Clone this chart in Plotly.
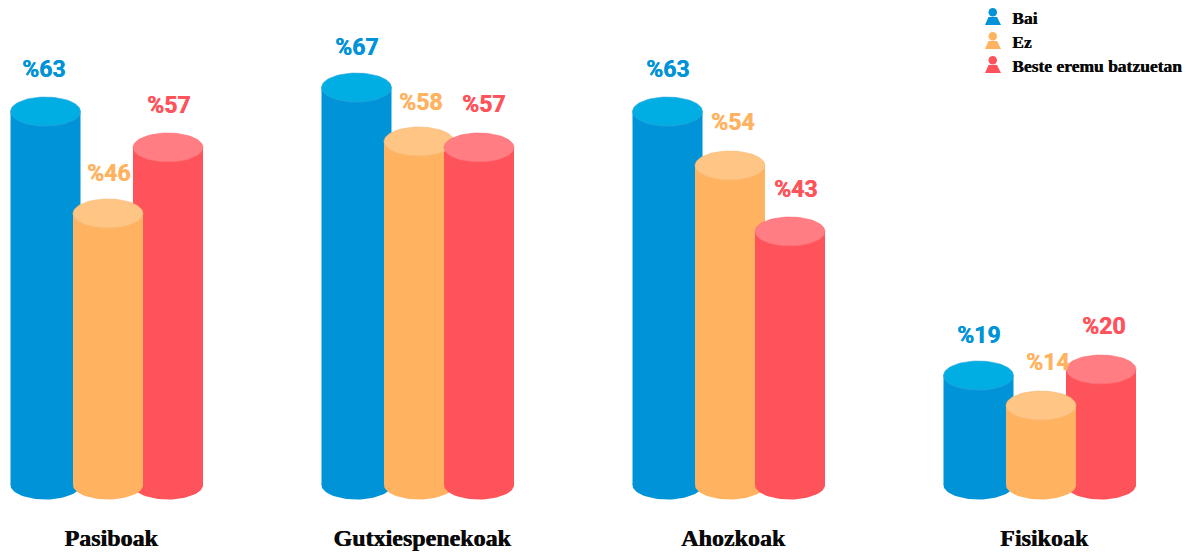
import numpy as np
import plotly.graph_objects as go

categories = ["Pasiboak", "Gutxiespenekoak", "Ahozkoak", "Fisikoak"]
bai = [63, 67, 63, 19]
ez = [46, 58, 54, 14]
beste = [57, 57, 43, 20]
series_names = ["Bai", "Ez", "Beste eremu batzuetan"]

W, H = 1190, 554
PLOT_H = 520
PX_PER_X = 311.0
PX_PER_Y = 6.0
ZERO_PX = 489.5
ORIGIN_PX = 108.0
BAR_W = 70 / PX_PER_X
ELL_H = 14.5 / PX_PER_Y
BASE = 4.5 / PX_PER_Y  # cylinders stand slightly above the zero line

BLUE, BLUE_T = "#0093D8", "#00AEE3"
ORANGE, ORANGE_T = "#FFB361", "#FFC585"
RED, RED_T = "#FF535B", "#FF7D83"
TEXT = "#0A0A0A"
VALUE_FONT = "Roboto"
TITLE_FONT = "Liberation Serif"

off_blue, off_orange, off_red = -62.5 / PX_PER_X, 0.0, 60.0 / PX_PER_X
styles = [
    (series_names[0], bai, off_blue, BLUE, BLUE_T, "#2FA6DE"),
    (series_names[1], ez, off_orange, ORANGE, ORANGE_T, "#F5B873"),
    (series_names[2], beste, off_red, RED, RED_T, "#FF6A71"),
]


def ellipse(cx, cy, color, bottom=False, edge=None):
    t = np.linspace(np.pi, 2 * np.pi, 40) if bottom else np.linspace(0, 2 * np.pi, 80)
    lift = 0.15 if bottom else 0.0
    xs = cx + BAR_W / 2 * np.cos(t)
    ys = cy + ELL_H * np.sin(t)
    if bottom:
        xs = np.concatenate([[xs[0]], xs, [xs[-1]]])
        ys = np.concatenate([[cy + lift], ys, [cy + lift]])
    return go.Scatter(x=xs, y=ys, mode="lines", fill="toself", fillcolor=color,
                      line=dict(color=edge or color, width=0.6 if edge else 0),
                      showlegend=False, hoverinfo="skip")


fig = go.Figure()
# in every group the taller cylinder stands behind the shorter one
for g in range(len(categories)):
    order = sorted(styles, key=lambda s: -s[1][g])
    for name, vals, off, col, top, edge in order:
        fig.add_trace(go.Bar(name=name, x=[g + off], y=[vals[g] - BASE], base=BASE, width=BAR_W,
                             marker=dict(color=col, line_width=0), showlegend=False,
                             hovertemplate=f"{categories[g]}<br>{name}: %{{customdata}}%<extra></extra>",
                             customdata=[vals[g]]))
    for name, vals, off, col, top, edge in order:
        fig.add_trace(ellipse(g + off, BASE, col, bottom=True))
        fig.add_trace(ellipse(g + off, vals[g], top, edge=edge))

# value labels
label_dx = {series_names[0]: [-2, 0, 0, 0], series_names[1]: [0, 1, 2, 6], series_names[2]: [0, 4, 5, 2]}
label_dy = {series_names[0]: [42, 40, 42, 40], series_names[1]: [40, 39, 43, 43], series_names[2]: [42, 43, 42, 43]}
annotations = []
for name, vals, off, col, top, edge in styles:
    for g, v in enumerate(vals):
        annotations.append(dict(x=g + off, y=v, xref="x", yref="y", text=f"%{v}", showarrow=False,
                                xanchor="center", yanchor="middle",
                                xshift=label_dx[name][g], yshift=label_dy[name][g],
                                font=dict(family=VALUE_FONT, size=23, color=col, weight=700,
                                          shadow=f"0.5px 0 0 {col}")))


def px(x):
    return x / W


def py(y):
    return 1 - y / PLOT_H


# legend drawn as person icons
shapes = []
rows = [(series_names[0], BLUE, 20), (series_names[1], ORANGE, 44), (series_names[2], RED, 68)]
for name, col, yc in rows:
    shapes.append(dict(type="circle", xref="paper", yref="paper", fillcolor=col, line_width=0,
                       x0=px(988.5), x1=px(997), y0=py(yc - 12), y1=py(yc - 3.5)))
    p = (f"M{px(985)},{py(yc + 5)} L{px(988.5)},{py(yc - 3)} L{px(997)},{py(yc - 3)} "
         f"L{px(1001)},{py(yc + 5)} Z")
    shapes.append(dict(type="path", xref="paper", yref="paper", path=p, fillcolor=col, line_width=0))
    annotations.append(dict(x=px(1012), y=py(yc - 1.7), xref="paper", yref="paper", text=f"<b>{name}</b>",
                            showarrow=False, xanchor="left", xshift=-2, yanchor="middle",
                            font=dict(family=TITLE_FONT, size=17.5, color=TEXT,
                                      shadow=f"0.5px 0 0 {TEXT}")))

fig.update_layout(
    width=W, height=H, margin=dict(l=0, r=0, t=0, b=H - PLOT_H),
    paper_bgcolor="white", plot_bgcolor="white", barmode="overlay", showlegend=False,
    annotations=annotations, shapes=shapes,
    xaxis=dict(range=[-ORIGIN_PX / PX_PER_X, (W - ORIGIN_PX) / PX_PER_X], showgrid=False, zeroline=False,
               showline=False, tickmode="array",
               tickvals=[g + 3 / PX_PER_X for g in range(len(categories))], ticktext=categories,
               ticks="", ticklabelstandoff=1,
               tickfont=dict(family=TITLE_FONT, size=24, color=TEXT, weight=700,
                             shadow=f"0.6px 0 0 {TEXT}")),
    yaxis=dict(range=[-(PLOT_H - ZERO_PX) / PX_PER_Y, ZERO_PX / PX_PER_Y], visible=False, showgrid=False,
               zeroline=False),
)
fig.write_html("out.html", config={"displayModeBar": False},
               post_script="document.body.style.margin='0';document.body.style.overflow='hidden';")
